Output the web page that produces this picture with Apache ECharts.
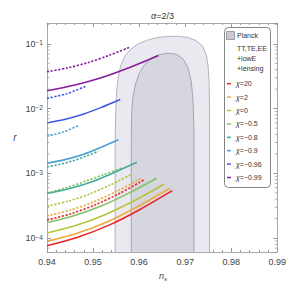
<!DOCTYPE html>
<html><head><meta charset="utf-8">
<script src="https://cdn.jsdelivr.net/npm/echarts@6.0.0/dist/echarts.min.js"></script>
<style>html,body{margin:0;padding:0;background:#fff;}#chart{width:289px;height:292px;}</style>
</head><body><div id="chart"></div>
<script>
// ---- data ----
const chiLabels = ['20', '2', '0', '−0.5', '−0.8', '−0.9', '−0.96', '−0.99'];
const lineColors = ['#e8262a', '#f0aa3c', '#b4c43c', '#84c262', '#46ab9b', '#4a9fd5', '#3c5ae0', '#861d9c'];

const solidNs = [
  [0.94, 0.9468, 0.9536, 0.9604, 0.9672],
  [0.94, 0.9467, 0.9534, 0.9600, 0.9667],
  [0.94, 0.9464, 0.9527, 0.9591, 0.9654],
  [0.94, 0.9460, 0.9519, 0.9579, 0.9638],
  [0.94, 0.9449, 0.9498, 0.9546, 0.9595],
  [0.94, 0.9439, 0.9478, 0.9516, 0.9555],
  [0.94, 0.9440, 0.9480, 0.9519, 0.9559],
  [0.94, 0.9461, 0.9521, 0.9582, 0.9642]
];
const solidR = [
  [7.6e-5, 1.04e-4, 1.6e-4, 2.82e-4, 5.4e-4],
  [8.9e-5, 1.2e-4, 1.82e-4, 3.16e-4, 5.9e-4],
  [1.2e-4, 1.58e-4, 2.32e-4, 3.84e-4, 6.8e-4],
  [1.74e-4, 2.24e-4, 3.17e-4, 5.0e-4, 8.4e-4],
  [4.9e-4, 5.85e-4, 7.45e-4, 1.03e-3, 1.48e-3],
  [1.43e-3, 1.63e-3, 1.96e-3, 2.5e-3, 3.3e-3],
  [6.0e-3, 6.85e-3, 8.25e-3, 1.05e-2, 1.38e-2],
  [1.89e-2, 2.31e-2, 3.04e-2, 4.38e-2, 6.6e-2]
];
const dottedNs = [
  [0.94, 0.9453, 0.9505, 0.9558, 0.9610],
  [0.94, 0.9451, 0.9502, 0.9553, 0.9604],
  [0.94, 0.9446, 0.9492, 0.9538, 0.9584],
  [0.94, 0.9441, 0.9483, 0.9524, 0.9565],
  [0.94, 0.9428, 0.9456, 0.9484, 0.9512],
  [0.94, 0.9435, 0.9469],
  [0.94, 0.9443, 0.9486],
  [0.94, 0.9445, 0.9490, 0.9535, 0.9580]
];
const dottedR = [
  [1.9e-4, 2.39e-4, 3.27e-4, 4.93e-4, 7.9e-4],
  [2.2e-4, 2.72e-4, 3.64e-4, 5.36e-4, 8.3e-4],
  [3.1e-4, 3.72e-4, 4.78e-4, 6.65e-4, 9.7e-4],
  [5.0e-4, 5.95e-4, 7.55e-4, 9.6e-4, 1.22e-3],
  [1.26e-3, 1.38e-3, 1.56e-3, 1.83e-3, 2.2e-3],
  [3.75e-3, 4.34e-3, 5.5e-3],
  [1.44e-2, 1.7e-2, 2.24e-2],
  [3.7e-2, 4.26e-2, 5.16e-2, 6.65e-2, 8.9e-2]
];

// Planck contours (95% outer, 68% inner)
const outerNs = [0.9548, 0.9548, 0.9549, 0.9551, 0.9555, 0.9561, 0.9570, 0.9582, 0.9598, 0.9616, 0.9636, 0.9660, 0.9685, 0.9706, 0.9724, 0.9738, 0.9746, 0.9750, 0.9752, 0.9753, 0.9753];
const outerR  = [1e-6, 0.003, 0.008, 0.018, 0.032, 0.048, 0.066, 0.083, 0.100, 0.113, 0.124, 0.130, 0.131, 0.126, 0.112, 0.092, 0.068, 0.045, 0.025, 0.010, 1e-6];
const innerNs = [0.9583, 0.9583, 0.9584, 0.9587, 0.9593, 0.9601, 0.9612, 0.9626, 0.9643, 0.9662, 0.9681, 0.9696, 0.9706, 0.9713, 0.9717, 0.9719, 0.9719];
const innerR  = [1e-6, 0.003, 0.009, 0.016, 0.025, 0.036, 0.048, 0.060, 0.068, 0.072, 0.069, 0.058, 0.043, 0.027, 0.014, 0.005, 1e-6];

const yMinorTicks = [7e-5, 8e-5, 9e-5, 2e-4, 3e-4, 4e-4, 5e-4, 6e-4, 7e-4, 8e-4, 9e-4,
  2e-3, 3e-3, 4e-3, 5e-3, 6e-3, 7e-3, 8e-3, 9e-3, 2e-2, 3e-2, 4e-2, 5e-2, 6e-2, 7e-2, 8e-2, 9e-2, 2e-1];
const legendNotes = ['TT,TE,EE', '+lowE', '+lensing'];

// ---- chart ----
const FONT = 'Liberation Sans, Arial, sans-serif';
const chart = echarts.init(document.getElementById('chart'), null, {renderer: 'svg'});

function contour(nsArr, rArr, fill, stroke) {
  return {
    type: 'custom', silent: true, z: 1,
    data: [[nsArr[1], rArr[1]]],
    renderItem: (p, api) => {
      const cs = p.coordSys;
      return {
        type: 'polygon',
        shape: {points: nsArr.map((x, i) => api.coord([x, rArr[i]]))},
        style: {fill: fill, stroke: stroke, lineWidth: 1},
        clipPath: {type: 'rect', shape: {x: cs.x, y: cs.y, width: cs.width, height: cs.height}}
      };
    }
  };
}

const series = [];
series.push(contour(outerNs, outerR, '#e9e9ef', '#b2b2c2'));
series.push(contour(innerNs, innerR, '#d6d6de', '#a4a4b6'));
chiLabels.forEach((c, i) => {
  series.push({
    type: 'line', name: 'd' + i, silent: true, z: 3,
    data: dottedNs[i].map((x, j) => [x, dottedR[i][j]]),
    smooth: 0.3, symbol: 'none', color: lineColors[i],
    lineStyle: {color: lineColors[i], width: 1.6, type: [2.2, 1.6]}
  });
});
chiLabels.forEach((c, i) => {
  series.push({
    type: 'line', name: 'χ=' + c, silent: true, z: 4,
    data: solidNs[i].map((x, j) => [x, solidR[i][j]]),
    smooth: 0.3, symbol: 'none', color: lineColors[i],
    lineStyle: {color: lineColors[i], width: 1.6}
  });
});
series.push({
  type: 'custom', silent: true, z: 5,
  data: yMinorTicks.map(v => [0.94, v]),
  renderItem: (p, api) => {
    const v = api.value(1);
    const a = api.coord([0.94, v]);
    const b = api.coord([0.99, v]);
    return {type: 'group', children: [
      {type: 'line', shape: {x1: a[0], y1: a[1], x2: a[0] + 2.5, y2: a[1]}, style: {stroke: '#999', lineWidth: 0.8}},
      {type: 'line', shape: {x1: b[0] - 2.5, y1: b[1], x2: b[0], y2: b[1]}, style: {stroke: '#999', lineWidth: 0.8}}
    ]};
  }
});

const frameLine = {show: true, lineStyle: {color: '#aaaaaa', width: 1}};
const yFmt = v => {
  const e = Math.log10(v), k = Math.round(e);
  if (Math.abs(e - k) > 1e-6) return '';
  return '10{e|' + (k < 0 ? '−' : '') + Math.abs(k) + '}';
};

chart.setOption({
  animation: false,
  textStyle: {fontFamily: FONT},
  title: {
    text: '{a|α}=2/3', left: 146, top: 6,
    textStyle: {fontSize: 9, fontWeight: 'normal', color: '#333', fontFamily: FONT,
      rich: {a: {fontStyle: 'italic', fontSize: 9, color: '#333', fontFamily: FONT}}}
  },
  grid: {left: 47, right: 10, top: 23, bottom: 40},
  xAxis: [{
    type: 'value', min: 0.94, max: 0.99, interval: 0.01, position: 'bottom',
    axisLine: frameLine,
    axisTick: {show: true, inside: true, length: 4, lineStyle: {color: '#999'}},
    minorTick: {show: true, splitNumber: 5, length: 2, lineStyle: {color: '#999'}},
    splitLine: {show: false},
    axisLabel: {fontSize: 9, color: '#444', margin: 5, formatter: v => v.toFixed(2), fontFamily: FONT}
  }, {
    type: 'value', min: 0.94, max: 0.99, interval: 0.01, position: 'top',
    axisLine: frameLine,
    axisTick: {show: true, inside: true, length: 4, lineStyle: {color: '#999'}},
    minorTick: {show: true, splitNumber: 5, length: 2, lineStyle: {color: '#999'}},
    splitLine: {show: false}, axisLabel: {show: false}
  }],
  yAxis: [{
    type: 'log', logBase: 10, min: 6.1e-5, max: 0.21, position: 'left',
    axisLine: frameLine,
    axisTick: {show: true, inside: true, length: 4, lineStyle: {color: '#999'}},
    splitLine: {show: false},
    axisLabel: {fontSize: 9, color: '#444', margin: 4, formatter: yFmt, showMinLabel: false, showMaxLabel: false,
      fontFamily: FONT,
      rich: {e: {fontSize: 6.5, color: '#444', verticalAlign: 'top', lineHeight: 8, fontFamily: FONT}}}
  }, {
    type: 'log', logBase: 10, min: 6.1e-5, max: 0.21, position: 'right',
    axisLine: frameLine,
    axisTick: {show: true, inside: true, length: 4, lineStyle: {color: '#999'}},
    splitLine: {show: false}, axisLabel: {show: false}
  }],
  legend: {
    data: chiLabels.map(c => 'χ=' + c),
    orient: 'vertical', left: 227, top: 79,
    icon: 'rect', itemWidth: 4, itemHeight: 1.5, itemGap: 4,
    selectedMode: false, padding: 0,
    formatter: n => '{i|χ}' + n.slice(1),
    textStyle: {fontSize: 7, color: '#333', lineHeight: 9.4, fontFamily: FONT,
      rich: {i: {fontStyle: 'italic', fontSize: 7, color: '#333', fontFamily: FONT}}}
  },
  graphic: [
    {type: 'rect', z: 2, shape: {x: 224.5, y: 27.5, width: 46, height: 160, r: 4},
      style: {fill: '#fff', stroke: '#666', lineWidth: 0.8}},
    {type: 'rect', z: 3, shape: {x: 226.5, y: 31.5, width: 8, height: 8},
      style: {fill: '#c9c9d3', stroke: '#8a8a9a', lineWidth: 0.8}},
    {type: 'text', z: 3, x: 237, y: 35.7, style: {text: 'Planck', fontSize: 7, fill: '#333', verticalAlign: 'middle', fontFamily: FONT}},
    {type: 'text', z: 3, x: 237, y: 48.3, style: {text: legendNotes[0], fontSize: 7, fill: '#333', verticalAlign: 'middle', fontFamily: FONT}},
    {type: 'text', z: 3, x: 237, y: 58.3, style: {text: legendNotes[1], fontSize: 7, fill: '#333', verticalAlign: 'middle', fontFamily: FONT}},
    {type: 'text', z: 3, x: 237, y: 68.3, style: {text: legendNotes[2], fontSize: 7, fill: '#333', verticalAlign: 'middle', fontFamily: FONT}},
    {type: 'text', z: 3, x: 15, y: 137, style: {text: 'r', fontSize: 10, fontStyle: 'italic', fill: '#444', align: 'center', verticalAlign: 'middle', fontFamily: FONT}},
    {type: 'text', z: 3, x: 163, y: 276, style: {text: '{n|n}{s|s}', align: 'center', verticalAlign: 'middle', fontFamily: FONT,
      rich: {n: {fontSize: 9, fontStyle: 'italic', fill: '#444', lineHeight: 12, fontFamily: FONT},
             s: {fontSize: 6, fontStyle: 'italic', fill: '#444', verticalAlign: 'bottom', lineHeight: 8, fontFamily: FONT}}}}
  ],
  series: series
});
</script>
</body></html>
